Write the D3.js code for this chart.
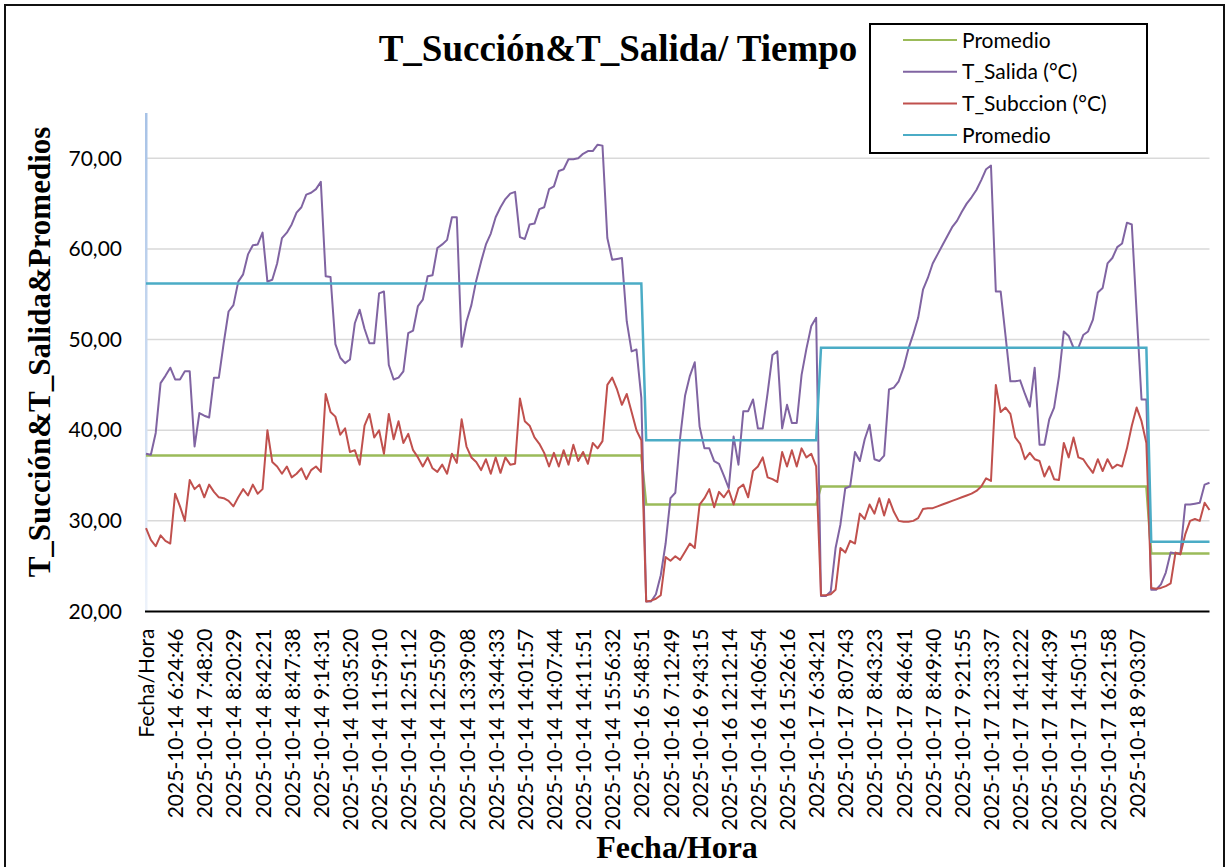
<!DOCTYPE html>
<html>
<head>
<meta charset="utf-8">
<script src="https://cdn.jsdelivr.net/npm/d3@7"></script>
<style>
  body { margin: 0; background: #fff; }
  svg { display: block; }
</style>
</head>
<body>
<svg id="chart" width="1230" height="867"></svg>
<script>
// category labels shown on the x axis (one every 6 points)
var tickLabels = ["Fecha/Hora",
  "2025-10-14 6:24:46","2025-10-14 7:48:20","2025-10-14 8:20:29","2025-10-14 8:42:21",
  "2025-10-14 8:47:38","2025-10-14 9:14:31","2025-10-14 10:35:20","2025-10-14 11:59:10",
  "2025-10-14 12:51:12","2025-10-14 12:55:09","2025-10-14 13:39:08","2025-10-14 13:44:33",
  "2025-10-14 14:01:57","2025-10-14 14:07:44","2025-10-14 14:11:51","2025-10-14 15:56:32",
  "2025-10-16 5:48:51","2025-10-16 7:12:49","2025-10-16 9:43:15","2025-10-16 12:12:14",
  "2025-10-16 14:06:54","2025-10-16 15:26:16",
  "2025-10-17 6:34:21","2025-10-17 8:07:43","2025-10-17 8:43:23","2025-10-17 8:46:41",
  "2025-10-17 8:49:40","2025-10-17 9:21:55","2025-10-17 12:33:37","2025-10-17 14:12:22",
  "2025-10-17 14:44:39","2025-10-17 14:50:15","2025-10-17 16:21:58",
  "2025-10-18 9:03:07"];
var labelEvery = 6;

// T_Salida (°C), one value per sample
var salida = [
  37.4,37.3,39.7,45.2,46.0,46.9,45.6,45.6,46.5,46.5,
  38.2,41.9,41.6,41.4,45.8,45.8,49.6,53.1,53.8,56.4,
  57.2,59.4,60.4,60.5,61.8,56.4,56.6,58.4,61.2,61.8,
  62.7,64.0,64.6,66.0,66.2,66.6,67.4,57.0,56.9,49.5,
  48.0,47.4,47.8,51.8,53.3,51.2,49.6,49.6,55.1,55.3,
  47.2,45.6,45.8,46.5,50.7,51.0,53.7,54.4,57.0,57.1,
  60.1,60.5,61.0,63.5,63.5,49.2,52.0,53.8,56.5,58.6,
  60.5,61.7,63.5,64.6,65.5,66.1,66.3,61.3,61.1,62.7,
  62.8,64.4,64.6,66.6,66.9,68.6,68.8,69.9,69.9,70.0,
  70.5,70.8,70.8,71.5,71.4,61.2,58.8,58.9,59.0,52.0,
  48.7,48.9,43.6,21.1,21.1,21.9,24.0,27.5,32.5,33.1,
  39.2,43.8,46.0,47.5,40.4,38.0,38.0,36.6,36.3,35.0,
  33.6,39.3,36.2,42.1,42.1,43.4,40.2,40.2,44.1,48.3,
  48.7,40.2,42.8,40.8,40.8,46.1,49.0,51.5,52.4,21.7,
  21.7,22.2,27.0,29.6,33.6,33.8,37.6,36.6,39.0,40.6,
  36.8,36.6,37.2,44.5,44.7,45.4,46.9,49.0,50.6,52.4,
  55.5,56.8,58.4,59.4,60.4,61.4,62.4,63.1,64.1,65.0,
  65.7,66.5,67.6,68.8,69.2,55.3,55.3,50.4,45.4,45.4,
  45.5,44.0,42.6,46.9,38.4,38.4,41.2,42.5,45.9,50.9,
  50.4,49.1,49.1,50.5,50.9,52.2,55.2,55.7,58.4,59.0,
  60.2,60.6,62.9,62.7,52.9,43.4,43.4,22.4,22.4,23.0,
  24.3,26.5,26.4,26.4,31.8,31.8,31.9,32.0,34.0,34.2
];

// T_Subccion (°C)
var subccion = [
  29.2,27.9,27.2,28.4,27.8,27.5,33.0,31.6,30.0,34.5,
  33.5,34.0,32.6,34.0,33.2,32.6,32.5,32.2,31.6,32.6,
  33.5,32.8,34.0,33.0,33.5,40.0,36.5,36.0,35.2,36.0,
  34.8,35.2,35.8,34.6,35.6,36.0,35.4,44.0,42.0,41.5,
  39.5,40.2,37.6,37.8,36.2,40.5,41.8,39.2,40.0,37.4,
  41.8,39.0,41.0,38.6,39.6,37.8,37.0,36.0,37.0,35.8,
  35.4,36.2,35.2,37.4,36.4,41.2,38.2,37.0,36.5,35.6,
  36.8,35.2,37.0,35.3,37.0,36.2,36.3,43.5,41.0,40.5,
  39.2,38.5,37.5,36.0,37.5,36.0,37.8,36.2,38.4,36.6,
  37.6,36.3,38.6,38.0,38.8,45.0,45.8,44.5,42.8,44.0,
  42.0,40.0,38.9,21.1,21.2,21.4,21.8,26.0,25.6,26.1,
  25.7,26.6,27.5,27.0,31.8,32.5,33.5,31.5,33.2,32.6,
  33.4,31.8,33.6,34.0,32.6,35.5,36.0,37.0,34.8,34.6,
  34.3,37.6,36.0,37.8,36.0,38.0,37.0,37.4,36.0,21.8,
  21.8,21.9,22.4,27.0,26.5,27.8,27.5,30.8,30.2,31.8,
  30.8,32.5,30.6,32.4,31.0,30.0,29.9,29.9,30.0,30.3,
  31.3,31.4,31.4,31.6,31.8,32.0,32.2,32.4,32.6,32.8,
  33.0,33.3,33.8,34.7,34.4,45.0,42.0,42.5,41.8,39.2,
  38.5,36.8,37.5,36.8,36.6,34.9,36.0,34.6,34.5,38.6,
  37.0,39.2,37.0,36.8,36.0,35.3,36.8,35.5,36.8,35.8,
  36.2,36.0,38.0,40.5,42.5,41.0,38.6,22.6,22.5,22.6,
  22.8,23.1,26.5,26.3,28.5,30.0,30.2,30.0,32.0,31.2
];

// averages per run (first / last sample index of each run)
var runStart = [0, 103, 139, 207];
var runEnd = [102, 138, 206, 219];
var promedioSubccion = [37.2, 31.8, 33.8, 26.4];   // green
var promedioSalida = [56.2, 38.9, 49.1, 27.7];     // blue

var yTicks = [20, 30, 40, 50, 60, 70];

var svg = d3.select("#chart");

var x = d3.scaleLinear().domain([0, salida.length - 1]).range([146, 1209.5]);
var y = d3.scaleLinear().domain([20, 75]).range([611.5, 113]);

var fmt = d3.formatLocale({ decimal: ",", thousands: ".", grouping: [3], currency: ["", ""] }).format(".2f");

// outer frame
svg.append("rect")
    .attr("x", 5).attr("y", 5)
    .attr("width", 1219).attr("height", 870)
    .attr("fill", "none")
    .attr("stroke", "#111")
    .attr("stroke-width", 2);

// gridlines
svg.append("g")
    .selectAll("line")
    .data(yTicks.filter(function (d) { return d > 20; }))
    .enter().append("line")
    .attr("x1", x(0)).attr("x2", x(salida.length - 1))
    .attr("y1", function (d) { return y(d); })
    .attr("y2", function (d) { return y(d); })
    .attr("stroke", "#d9d9d9")
    .attr("stroke-width", 1.5);

// y axis (pale blue line fading downwards)
var grad = svg.append("defs").append("linearGradient")
    .attr("id", "yaxisGrad")
    .attr("x1", 0).attr("y1", 0).attr("x2", 0).attr("y2", 1);
grad.append("stop").attr("offset", "0%").attr("stop-color", "#a7c2e6");
grad.append("stop").attr("offset", "100%").attr("stop-color", "#eef3fb");
svg.append("rect")
    .attr("x", 145).attr("y", y(75))
    .attr("width", 2.5).attr("height", y(20) - y(75))
    .attr("fill", "url(#yaxisGrad)");

var yAxis = svg.append("g")
    .attr("transform", "translate(146,0)")
    .call(d3.axisLeft(y).tickValues(yTicks).tickFormat(fmt).tickSize(0).tickPadding(24));
yAxis.select(".domain").remove();
yAxis.selectAll("text")
    .attr("font-family", "Lato, sans-serif")
    .attr("font-size", 21)
    .attr("fill", "#000");

// x axis
var xAxis = svg.append("g")
    .attr("transform", "translate(0," + y(20) + ")")
    .call(d3.axisBottom(x)
        .tickValues(tickLabels.map(function (d, j) { return j * labelEvery; }))
        .tickFormat(function (i) { return tickLabels[i / labelEvery]; })
        .tickSize(0));
xAxis.select(".domain").remove();
xAxis.selectAll("text")
    .attr("font-family", "Lato, sans-serif")
    .attr("font-size", 21)
    .attr("fill", "#000")
    .attr("text-anchor", "end")
    .attr("transform", "rotate(-90)")
    .attr("x", -17)
    .attr("y", 0)
    .attr("dy", "0.36em");

svg.append("line")
    .attr("x1", x(0) - 1).attr("x2", x(salida.length - 1))
    .attr("y1", y(20)).attr("y2", y(20))
    .attr("stroke", "#000")
    .attr("stroke-width", 2);

// series
function seriesLine(values) {
    return d3.line()
        .x(function (d, i) { return x(i); })
        .y(function (d) { return y(d); })(values);
}

function runLine(values) {
    var pts = [];
    values.forEach(function (v, k) {
        pts.push([runStart[k], v]);
        pts.push([runEnd[k], v]);
    });
    return d3.line()
        .x(function (d) { return x(d[0]); })
        .y(function (d) { return y(d[1]); })(pts);
}

svg.append("path").attr("d", runLine(promedioSubccion))
    .attr("fill", "none").attr("stroke", "#9bbb59").attr("stroke-width", 2.5);
svg.append("path").attr("d", seriesLine(salida))
    .attr("fill", "none").attr("stroke", "#8064a2").attr("stroke-width", 2)
    .attr("stroke-linejoin", "round");
svg.append("path").attr("d", seriesLine(subccion))
    .attr("fill", "none").attr("stroke", "#c0504d").attr("stroke-width", 2)
    .attr("stroke-linejoin", "round");
svg.append("path").attr("d", runLine(promedioSalida))
    .attr("fill", "none").attr("stroke", "#4bacc6").attr("stroke-width", 2.5);

// titles
svg.append("text")
    .attr("x", 618).attr("y", 61)
    .attr("text-anchor", "middle")
    .attr("font-family", "'Liberation Serif', 'Times New Roman', serif")
    .attr("font-weight", "bold")
    .attr("font-size", 37)
    .text("T_Succión&T_Salida/ Tiempo");

svg.append("text")
    .attr("x", 677).attr("y", 858)
    .attr("text-anchor", "middle")
    .attr("font-family", "'Liberation Serif', 'Times New Roman', serif")
    .attr("font-weight", "bold")
    .attr("font-size", 32)
    .text("Fecha/Hora");

svg.append("text")
    .attr("transform", "translate(50,352) rotate(-90)")
    .attr("text-anchor", "middle")
    .attr("font-family", "'Liberation Serif', 'Times New Roman', serif")
    .attr("font-weight", "bold")
    .attr("font-size", 31)
    .text("T_Succión&T_Salida&Promedios");

// legend
var legendItems = [
    { name: "Promedio", color: "#9bbb59" },
    { name: "T_Salida (°C)", color: "#8064a2" },
    { name: "T_Subccion (°C)", color: "#c0504d" },
    { name: "Promedio", color: "#4bacc6" }
];
var legend = svg.append("g");
legend.append("rect")
    .attr("x", 870).attr("y", 24)
    .attr("width", 277).attr("height", 129)
    .attr("fill", "#fff")
    .attr("stroke", "#000")
    .attr("stroke-width", 2);
var item = legend.selectAll(".item")
    .data(legendItems)
    .enter().append("g")
    .attr("class", "item")
    .attr("transform", function (d, i) { return "translate(0," + (40 + i * 31.7) + ")"; });
item.append("line")
    .attr("x1", 903).attr("x2", 957)
    .attr("stroke", function (d) { return d.color; })
    .attr("stroke-width", 2);
item.append("text")
    .attr("x", 962).attr("dy", "0.36em")
    .attr("font-family", "Lato, sans-serif")
    .attr("font-size", 21)
    .text(function (d) { return d.name; });
</script>
</body>
</html>
